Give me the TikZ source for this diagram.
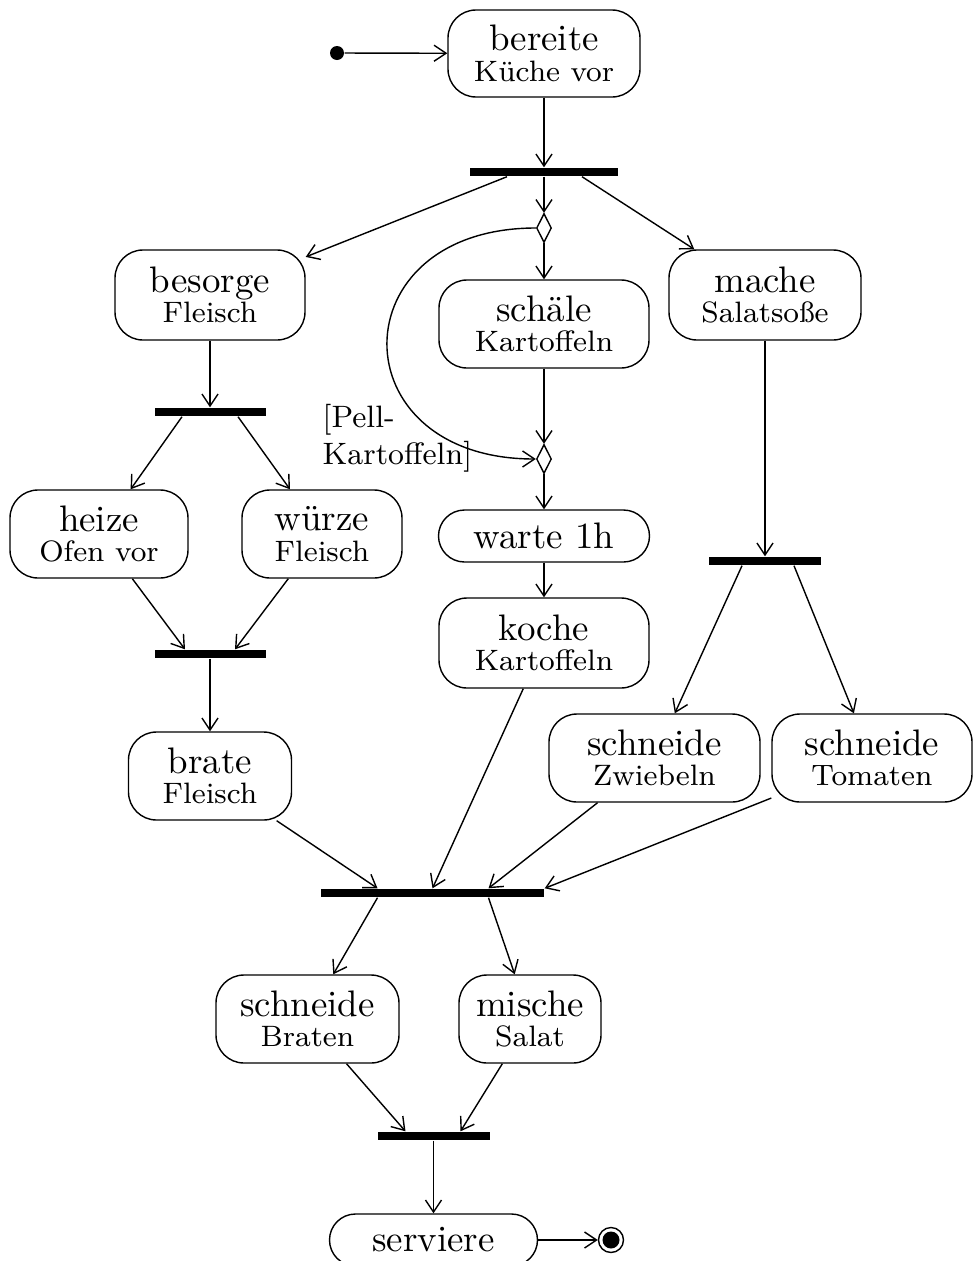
\documentclass[tikz,border=0pt]{standalone}
\usepackage{fontspec}
\usetikzlibrary{shapes.geometric}
\usetikzlibrary{arrows.meta}
\tikzstyle{activity}=[draw, line width=0.4pt, rounded corners=0.28cm, minimum height=0.88cm, align=center, inner sep=0pt, font=\fontsize{10.5}{8.7}\selectfont]
\tikzstyle{short activity}=[activity, minimum height=0.52cm, rounded corners=0.26cm]
\tikzstyle{bar}=[fill=black, minimum height=0.08cm, inner sep=0pt]
\tikzstyle{branch}=[draw, diamond, line width=0.4pt, minimum width=0.15cm, minimum height=0.29cm, inner sep=0pt]
\tikzstyle{flow}=[line width=0.4pt, -{Straight Barb[length=0.12cm, width=0.16cm]}]
\tikzstyle{initial}=[circle, fill=black, minimum size=0.14cm, inner sep=0pt]
\tikzstyle{final}=[circle, draw, line width=0.4pt, minimum size=0.25cm, inner sep=0pt,
  path picture={\fill (path picture bounding box.center) circle (0.085cm);}]
\tikzstyle{guard}=[align=left, inner sep=0pt, font=\fontsize{8.8}{10.5}\selectfont]
\newcommand{\actsub}[1]{{\fontsize{8.4}{8.7}\selectfont #1}}

\begin{document}
\begin{tikzpicture}
  \useasboundingbox (0,0) rectangle (9.72,-12.61);
  % nodes
  \node[initial] (start) at (3.37,-0.53) {};
  \node[activity, minimum width=1.92cm, minimum height=0.87cm] (bereite) at (5.44,-0.535) {bereite\\\actsub{Küche vor}};
  \node[bar, minimum width=1.48cm] (bar1) at (5.44,-1.72) {};
  \node[branch] (d1) at (5.44,-2.28) {};
  \node[activity, minimum width=1.90cm, minimum height=0.90cm] (besorge) at (2.10,-2.95) {besorge\\\actsub{Fleisch}};
  \node[activity, minimum width=2.10cm] (schaele) at (5.44,-3.24) {schäle\\\actsub{Kartoffeln}};
  \node[activity, minimum width=1.92cm, minimum height=0.90cm] (mache) at (7.65,-2.95) {mache\\\actsub{Salatsoße}};
  \node[bar, minimum width=1.11cm] (bar2) at (2.10,-4.12) {};
  \node[branch] (d2) at (5.44,-4.59) {};
  \node[guard, anchor=east] (pell) at ([xshift=-0.63cm, yshift=0.21cm]d2.west) {[Pell-\\Kartoffeln]};
  \node[activity, minimum width=1.78cm] (heize) at (0.99,-5.34) {heize\\\actsub{Ofen vor}};
  \node[activity, minimum width=1.60cm] (wuerze) at (3.22,-5.34) {würze\\\actsub{Fleisch}};
  \node[short activity, minimum width=2.11cm] (warte) at (5.44,-5.36) {warte 1h};
  \node[bar, minimum width=1.12cm] (bar3) at (7.65,-5.61) {};
  \node[activity, minimum width=2.10cm, minimum height=0.90cm] (koche) at (5.44,-6.43) {koche\\\actsub{Kartoffeln}};
  \node[bar, minimum width=1.11cm] (bar4) at (2.10,-6.54) {};
  \node[activity, minimum width=1.63cm] (brate) at (2.10,-7.76) {brate\\\actsub{Fleisch}};
  \node[activity, minimum width=2.11cm] (zwiebeln) at (6.545,-7.58) {schneide\\\actsub{Zwiebeln}};
  \node[activity, minimum width=2.00cm] (tomaten) at (8.72,-7.58) {schneide\\\actsub{Tomaten}};
  \node[bar, minimum width=2.23cm] (bar5) at (4.325,-8.93) {};
  \node[activity, minimum width=1.83cm] (braten) at (3.075,-10.19) {schneide\\\actsub{Braten}};
  \node[activity, minimum width=1.42cm] (mische) at (5.30,-10.19) {mische\\\actsub{Salat}};
  \node[bar, minimum width=1.12cm] (bar6) at (4.335,-11.36) {};
  \node[short activity, minimum width=2.08cm] (serviere) at (4.335,-12.40) {serviere};
  \node[final] (end) at (6.11,-12.40) {};

  % transitions
  \draw[flow] (start) -- (bereite);
  \draw[flow] (bereite) -- (bar1);
  \draw[flow] ([xshift=-0.37cm]bar1.south) -- (besorge);
  \draw[flow] (bar1) -- (d1);
  \draw[flow] ([xshift=0.38cm]bar1.south) -- (mache);
  \draw[flow] (d1) -- (schaele);
  \draw[flow] (d1.west) to[out=180, in=180, looseness=2.2] (d2.west);
  \draw[flow] (schaele) -- (d2);
  \draw[flow] (d2) -- (warte);
  \draw[flow] (warte) -- (koche);
  \draw[flow] (besorge) -- (bar2);
  \draw[flow] ([xshift=-0.28cm]bar2.south) -- (heize);
  \draw[flow] ([xshift=0.28cm]bar2.south) -- (wuerze);
  \draw[flow] (heize) -- ([xshift=-0.25cm]bar4.north);
  \draw[flow] (wuerze) -- ([xshift=0.25cm]bar4.north);
  \draw[flow] (bar4) -- (brate);
  \draw[flow] (mache) -- (bar3);
  \draw[flow] ([xshift=-0.23cm]bar3.south) -- (zwiebeln);
  \draw[flow] ([xshift=0.29cm]bar3.south) -- (tomaten);
  \draw[flow] (brate) -- ([xshift=-0.55cm]bar5.north);
  \draw[flow] (koche) -- (bar5.north);
  \draw[flow] (zwiebeln) -- ([xshift=0.56cm]bar5.north);
  \draw[flow] (tomaten) -- (bar5.north east);
  \draw[flow] ([xshift=-0.55cm]bar5.south) -- (braten);
  \draw[flow] ([xshift=0.56cm]bar5.south) -- (mische);
  \draw[flow] (braten) -- ([xshift=-0.28cm]bar6.north);
  \draw[flow] (mische) -- ([xshift=0.27cm]bar6.north);
  \draw[flow] (bar6) -- (serviere);
  \draw[flow] (serviere) -- (end);
\end{tikzpicture}
\end{document}
